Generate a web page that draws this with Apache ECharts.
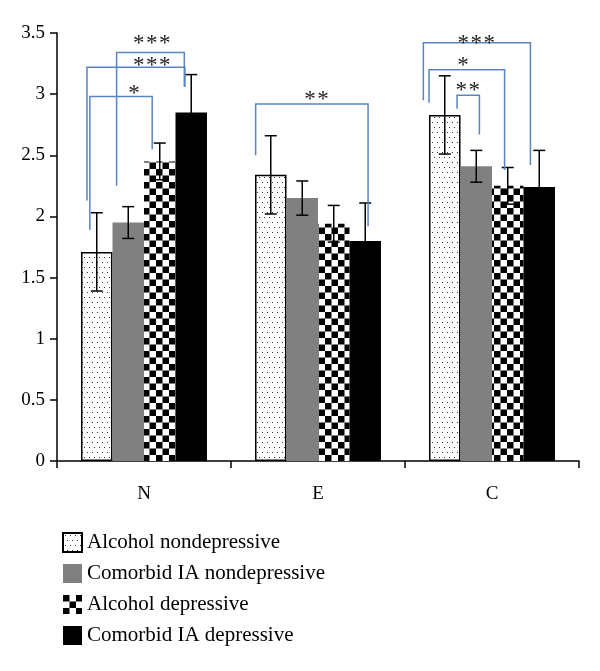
<!DOCTYPE html>
<html>
<head>
<meta charset="utf-8">
<script src="https://cdn.jsdelivr.net/npm/echarts@6/dist/echarts.min.js"></script>
<style>
  html, body { margin: 0; padding: 0; background: #fff; }
  #chart { width: 600px; height: 671px; }
</style>
</head>
<body>
<div id="chart"></div>
<script>
// categories + group names
const categories = ['N', 'E', 'C'];
const groupNames = ['Alcohol nondepressive', 'Comorbid IA nondepressive', 'Alcohol depressive', 'Comorbid IA depressive'];

// mean values per group (N, E, C)
const alcNondep = [1.71, 2.34, 2.83];
const iaNondep = [1.95, 2.15, 2.41];
const alcDep = [2.45, 1.94, 2.25];
const iaDep = [2.85, 1.80, 2.24];

// error (+/-) per group
const alcNondepErr = [0.32, 0.32, 0.32];
const iaNondepErr = [0.13, 0.14, 0.13];
const alcDepErr = [0.15, 0.15, 0.15];
const iaDepErr = [0.31, 0.31, 0.30];

// y axis ticks
const yTicks = [0, 0.5, 1, 1.5, 2, 2.5, 3, 3.5];

// significance brackets: [category, leftBar, rightBar, leftBottom, rightBottom, top, stars, labelBar, labelY]
// bar positions in bar-index units (0..3 = bar centres)
const brackets = [
  [0, -0.22, 1.76, 1.89, 2.55, 2.98, '*', 1.18, 3.04],
  [0, -0.31, 2.80, 2.13, 3.06, 3.22, '***', 1.75, 3.27],
  [0, 0.63, 2.78, 2.25, 3.06, 3.34, '***', 1.75, 3.45],
  [1, -0.48, 3.09, 2.50, 1.92, 2.92, '**', 1.45, 2.99],
  [2, -0.68, 2.72, 2.95, 2.42, 3.42, '***', 1.00, 3.45],
  [2, -0.50, 1.90, 2.93, 2.38, 3.20, '*', 0.58, 3.27],
  [2, 0.39, 1.10, 2.88, 2.67, 2.99, '**', 0.73, 3.07]
];

const means = [alcNondep, iaNondep, alcDep, iaDep];
const errs = [alcNondepErr, iaNondepErr, alcDepErr, iaDepErr];

const catGap = 0.276;
const blue = '#5a85c3';
const serif = '"Liberation Serif", "DejaVu Serif", serif';

function makeDots() {
  const c = document.createElement('canvas');
  c.width = 10; c.height = 10;
  const g = c.getContext('2d');
  g.fillStyle = '#fff';
  g.fillRect(0, 0, 10, 10);
  g.fillStyle = '#333';
  g.fillRect(2, 2, 1, 1);
  g.fillRect(7, 2, 1, 1);
  g.fillRect(4, 7, 1, 1);
  g.fillRect(9, 7, 1, 1);
  return c;
}
function makeChecker() {
  const c = document.createElement('canvas');
  c.width = 13; c.height = 13;
  const g = c.getContext('2d');
  g.fillStyle = '#fff';
  g.fillRect(0, 0, 13, 13);
  g.fillStyle = '#000';
  g.fillRect(0, 0, 6.5, 6.5);
  g.fillRect(6.5, 6.5, 6.5, 6.5);
  return c;
}

const styles = [
  { color: { image: makeDots(), repeat: 'repeat' }, borderColor: '#000', borderWidth: 1.5 },
  { color: '#808080' },
  { color: { image: makeChecker(), repeat: 'repeat' } },
  { color: '#000' }
];

const barSeries = groupNames.map((name, i) => ({
  name: name,
  type: 'bar',
  data: means[i],
  barGap: 0,
  barCategoryGap: (catGap * 100) + '%',
  itemStyle: styles[i],
  emphasis: { disabled: true },
  z: 2
}));

function barX(api, cat, pos) {
  const c = api.coord([cat, 0])[0];
  const band = api.size([1, 0])[0];
  const w = band * (1 - catGap) / 4;
  return c + (pos - 1.5) * w;
}

const errData = [];
means.forEach((arr, g) => arr.forEach((v, k) => errData.push([k, v, errs[g][k], g])));

const errSeries = {
  type: 'custom',
  name: 'err',
  data: errData,
  encode: { x: 0, y: 1 },
  z: 5,
  silent: true,
  renderItem: function (params, api) {
    const cat = api.value(0), v = api.value(1), e = api.value(2), g = api.value(3);
    const x = barX(api, cat, g);
    const yHi = api.coord([cat, v + e])[1];
    const yLo = api.coord([cat, v - e])[1];
    const cap = 6;
    const st = { stroke: '#000', lineWidth: 1.5 };
    return {
      type: 'group',
      children: [
        { type: 'line', shape: { x1: x, y1: yHi, x2: x, y2: yLo }, style: st },
        { type: 'line', shape: { x1: x - cap, y1: yHi, x2: x + cap, y2: yHi }, style: st },
        { type: 'line', shape: { x1: x - cap, y1: yLo, x2: x + cap, y2: yLo }, style: st }
      ]
    };
  }
};

const bracketSeries = {
  type: 'custom',
  name: 'sig',
  data: brackets.map(b => b.slice(0, 6).concat([b[7], b[8]])),
  encode: { x: 0, y: 5 },
  z: 6,
  silent: true,
  clip: false,
  renderItem: function (params, api) {
    const b = brackets[params.dataIndex];
    const cat = b[0];
    const xl = barX(api, cat, b[1]);
    const xr = barX(api, cat, b[2]);
    const yl = api.coord([cat, b[3]])[1];
    const yr = api.coord([cat, b[4]])[1];
    const yt = api.coord([cat, b[5]])[1];
    const lx = barX(api, cat, b[7]);
    const ly = api.coord([cat, b[8]])[1];
    const kids = [
      { type: 'polyline', shape: { points: [[xl, yl], [xl, yt], [xr, yt], [xr, yr]] },
        style: { stroke: blue, lineWidth: 1.5, fill: null } }
    ];
    // one text per star, fixed pitch
    const n = b[6].length, pitch = 13;
    for (let i = 0; i < n; i++) {
      kids.push({ type: 'text', x: lx + (i - (n - 1) / 2) * pitch, y: ly + 5,
        style: { text: '*', fontSize: 23, fontFamily: serif, fill: '#222', align: 'center', verticalAlign: 'middle' } });
    }
    return { type: 'group', children: kids };
  }
};

const chart = echarts.init(document.getElementById('chart'), null, { renderer: 'canvas' });
chart.setOption({
  animation: false,
  backgroundColor: '#fff',
  grid: { left: 57, right: 21, top: 33, bottom: 210, containLabel: false },
  legend: {
    data: groupNames,
    orient: 'vertical',
    left: 57,
    top: 527,
    itemWidth: 19,
    itemHeight: 19,
    itemGap: 10,
    icon: 'rect',
    selectedMode: false,
    textStyle: { fontFamily: serif, fontSize: 21, color: '#000', padding: [0, 0, 0, 0] }
  },
  xAxis: {
    type: 'category',
    data: categories,
    axisLine: { lineStyle: { color: '#000', width: 1.5 } },
    axisTick: { show: true, alignWithLabel: false, interval: 0, length: 7, lineStyle: { color: '#000', width: 1.5 } },
    axisLabel: { fontFamily: serif, fontSize: 19, color: '#000', margin: 24 }
  },
  yAxis: {
    type: 'value',
    min: yTicks[0],
    max: yTicks[yTicks.length - 1],
    interval: 0.5,
    axisLine: { show: true, lineStyle: { color: '#000', width: 1.5 } },
    axisTick: { show: true, length: 7, lineStyle: { color: '#000', width: 1.5 } },
    splitLine: { show: false },
    axisLabel: { fontFamily: serif, fontSize: 19, color: '#000', margin: 12 }
  },
  series: barSeries.concat([errSeries, bracketSeries])
});
</script>
</body>
</html>
